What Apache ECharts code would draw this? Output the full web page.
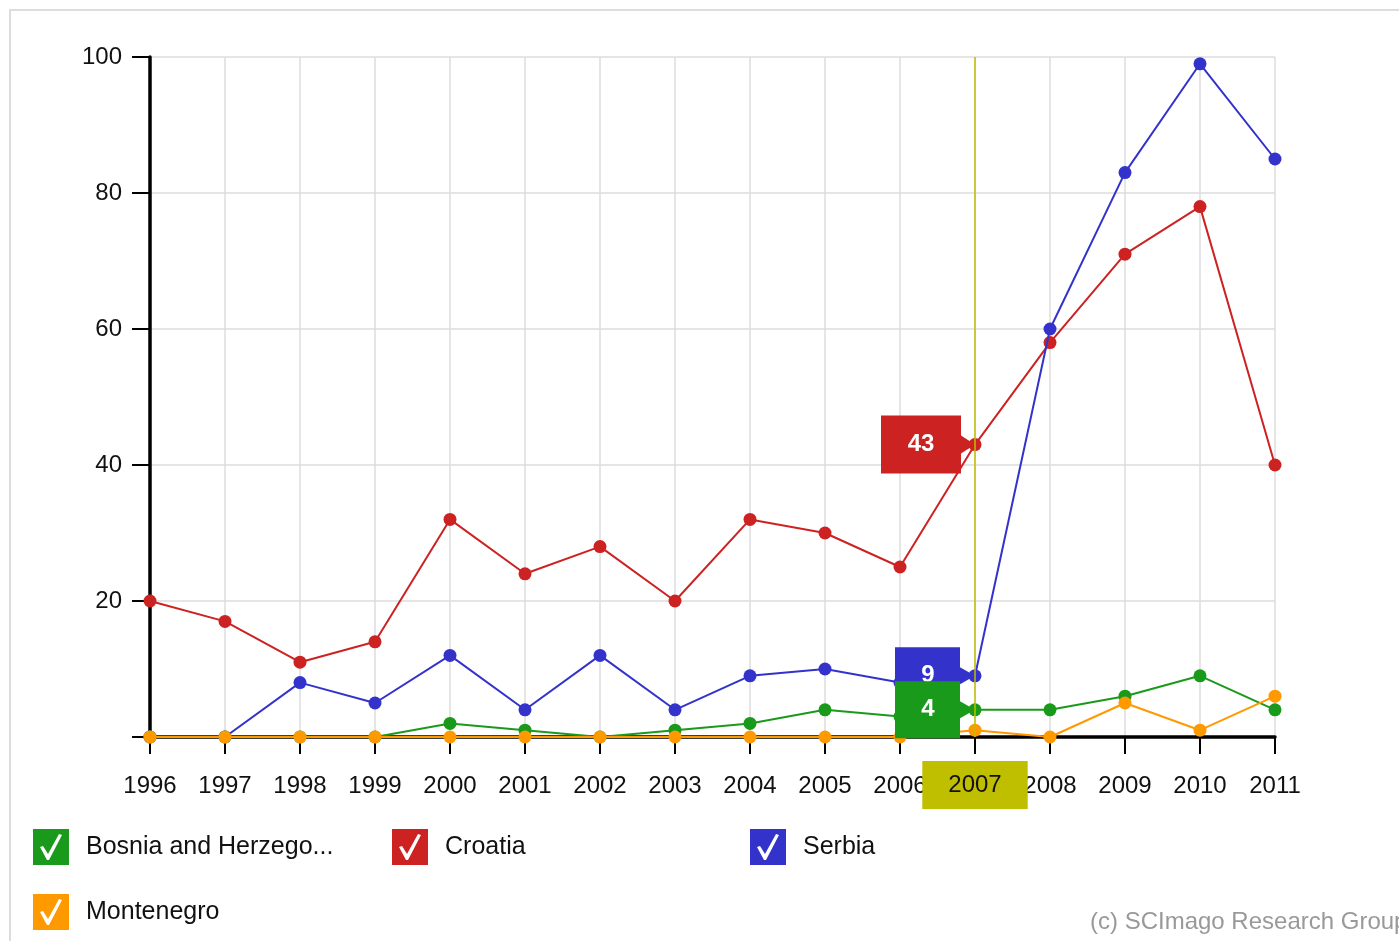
<!DOCTYPE html>
<html>
<head>
<meta charset="utf-8">
<script src="https://cdn.jsdelivr.net/npm/echarts@6/dist/echarts.min.js"></script>
<style>
  html, body { margin: 0; padding: 0; background: #fff; }
  #chart { width: 1399px; height: 941px; }
</style>
</head>
<body>
<div id="chart"></div>
<script>
const years = ['1996', '1997', '1998', '1999', '2000', '2001', '2002', '2003', '2004', '2005', '2006', '2007', '2008', '2009', '2010', '2011']
const bosnia = [0, 0, 0, 0, 2, 1, 0, 1, 2, 4, 3, 4, 4, 6, 9, 4]
const croatia = [20, 17, 11, 14, 32, 24, 28, 20, 32, 30, 25, 43, 58, 71, 78, 40]
const serbia = [0, 0, 8, 5, 12, 4, 12, 4, 9, 10, 8, 9, 60, 83, 99, 85]
const montenegro = [0, 0, 0, 0, 0, 0, 0, 0, 0, 0, 0, 1, 0, 5, 1, 6]
const yTicks = [0, 20, 40, 60, 80, 100]
const hoverYear = '2007'

const COLORS = {
  bosnia: '#1a9a1a',
  croatia: '#cc2222',
  serbia: '#3333cc',
  montenegro: '#ff9900',
  pointer: '#bfbf00'
}
const FONT = '"Liberation Sans", Arial, sans-serif'

// checkbox icon: square with a check-shaped hole
const checkIcon = 'path://M0,0 L36,0 L36,36 L0,36 Z M7,18 L14,31 L16,31 L29,6 L26,5 L15,25 L10,17 Z'
const bigCallout = 'path://M0,0 L80,0 L80,20 L94,29 L80,38 L80,58 L0,58 Z'
const smallCallout = 'path://M0,0 L65,0 L65,20 L80,28.5 L65,37 L65,57 L0,57 Z'

const hoverIdx = years.indexOf(hoverYear)

const callout = (values, color, big, z) => ({
  symbol: big ? bigCallout : smallCallout,
  symbolSize: big ? [94, 58] : [80, 57],
  symbolOffset: big ? [-47, 0] : [-40, 0],
  silent: true,
  z,
  itemStyle: { color },
  label: {
    show: true,
    offset: [-7, 0],
    color: '#fff',
    fontFamily: FONT,
    fontSize: 24,
    fontWeight: 'bold',
    formatter: () => String(values[hoverIdx])
  },
  data: [{ coord: [hoverYear, values[hoverIdx]] }]
})

const lineSeries = (name, values, color, z, calloutZ, big) => ({
  name,
  type: 'line',
  data: values,
  z,
  symbol: 'circle',
  symbolSize: 13,
  lineStyle: { color, width: 2 },
  itemStyle: { color },
  emphasis: { disabled: true },
  markPoint: calloutZ ? callout(values, color, big, calloutZ) : undefined
})

const legendBase = (left, top, name, width) => ({
  left,
  top,
  padding: 0,
  data: [name],
  icon: checkIcon,
  itemWidth: 36,
  itemHeight: 37,
  itemGap: 0,
  selectedMode: false,
  textStyle: {
    fontFamily: FONT,
    fontSize: 25,
    color: '#111',
    padding: [3, 0, 0, 12],
    width: width,
    overflow: width ? 'truncate' : 'none',
    ellipsis: '...'
  }
})

const chart = echarts.init(document.getElementById('chart'))
chart.setOption({
  backgroundColor: '#fff',
  animation: false,
  textStyle: { fontFamily: FONT },
  graphic: [
    {
      type: 'rect',
      shape: { x: 10, y: 10, width: 1500, height: 1000 },
      style: { fill: 'none', stroke: '#dddddd', lineWidth: 2 },
      silent: true
    },
    {
      type: 'text',
      left: 1090,
      top: 910,
      style: { text: '(c) SCImago Research Group', fill: '#999', font: '24px ' + FONT }
    }
  ],
  legend: [
    legendBase(33, 829, 'Bosnia and Herzegovina', 253),
    legendBase(392, 829, 'Croatia'),
    legendBase(750, 829, 'Serbia'),
    legendBase(33, 894, 'Montenegro')
  ],
  grid: { left: 150, right: 124, top: 57, bottom: 204 },
  xAxis: {
    type: 'category',
    data: years,
    boundaryGap: false,
    axisLine: { lineStyle: { color: '#000', width: 3.5 } },
    axisTick: { show: true, length: 17, lineStyle: { color: '#000', width: 2 } },
    axisLabel: { color: '#111', fontSize: 24, margin: 37, fontFamily: FONT },
    splitLine: { show: true, lineStyle: { color: '#dcdcdc', width: 1.5 } },
    axisPointer: {
      show: true,
      value: hoverYear,
      status: 'show',
      triggerTooltip: false,
      type: 'line',
      lineStyle: { color: COLORS.pointer, width: 1.5, type: 'solid' },
      label: {
        show: true,
        backgroundColor: COLORS.pointer,
        color: '#111',
        fontSize: 24,
        fontFamily: FONT,
        padding: [12, 26, 12, 26],
        margin: 24,
        borderRadius: 0
      }
    }
  },
  yAxis: {
    type: 'value',
    min: yTicks[0],
    max: yTicks[yTicks.length - 1],
    interval: yTicks[1] - yTicks[0],
    axisLine: { show: true, lineStyle: { color: '#000', width: 3.5 } },
    axisTick: { show: true, length: 18, lineStyle: { color: '#000', width: 2 } },
    axisLabel: {
      color: '#111',
      fontSize: 24,
      margin: 28,
      fontFamily: FONT,
      formatter: (v) => (v === 0 ? '' : String(v))
    },
    splitLine: { show: true, lineStyle: { color: '#dcdcdc', width: 1.5 } }
  },
  series: [
    lineSeries('Bosnia and Herzegovina', bosnia, COLORS.bosnia, 6, 12, false),
    lineSeries('Croatia', croatia, COLORS.croatia, 4, 10, true),
    lineSeries('Serbia', serbia, COLORS.serbia, 5, 11, false),
    lineSeries('Montenegro', montenegro, COLORS.montenegro, 7, 0, false)
  ]
})
</script>
</body>
</html>
